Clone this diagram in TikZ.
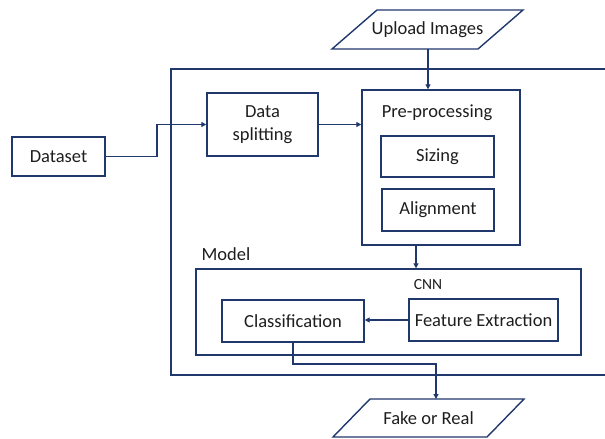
\documentclass[tikz,border=0pt]{standalone}
\usepackage{fontspec}
\setmainfont{Carlito}
\usetikzlibrary{arrows.meta}
\definecolor{navy}{RGB}{32,56,108}
\definecolor{txt}{RGB}{30,30,30}
\tikzset{
  box/.style={draw=navy, line width=1.4pt, text=txt, inner sep=0pt, align=center},
  paraline/.style={draw=navy, line width=1.4pt, line join=miter},
  conn/.style={draw=navy, line width=1.4pt},
  arr/.style={conn, -{Triangle[length=5pt,width=5pt]}},
  lbl/.style={text=txt, inner sep=0pt}
}
\begin{document}
\begin{tikzpicture}[x=1pt,y=-1pt,font=\fontsize{18.5}{23}\selectfont]
\useasboundingbox (0,0) rectangle (605,439);
% outer box (open on the right)
\draw[conn] (605,69) -- (171,69) -- (171,375) -- (605,375);
% parallelograms
\draw[paraline] (332,49) -- (377,10) -- (523,10) -- (478,49) -- cycle;
\node[lbl] (up) at (427.5,30) {Upload Images};
\coordinate (upb) at (428,49);
\draw[paraline] (333,437) -- (370,399) -- (524,399) -- (487,437) -- cycle;
\node[lbl] (out) at (428.5,418) {Fake or Real};
\coordinate (outt) at (436,399);
% nodes
\node[box, minimum width=93, minimum height=39] (ds) at (58.5,156.5) {Dataset};
\node[box, minimum width=111, minimum height=63] (split) at (262.5,124.5) {Data\\splitting};
\node[box, minimum width=158, minimum height=155] (pre) at (441,167.5) {};
\node[lbl] (prelbl) at (437,113) {Pre-processing};
\node[box, minimum width=113, minimum height=41] (siz) at (437.5,156.5) {Sizing};
\node[box, minimum width=112, minimum height=42] (ali) at (438,210) {Alignment};
\node[lbl] (modlbl) at (226,254) {Model};
\node[box, minimum width=385, minimum height=86] (cnn) at (388.5,312) {};
\node[lbl, font=\fontsize{15.5}{18}\selectfont] (cnnlbl) at (428,285) {CNN};
\node[box, minimum width=142, minimum height=42] (cls) at (293,321) {Classification};
\node[box, minimum width=149, minimum height=42] (fe) at (483.5,320) {Feature Extraction};
% connectors
\coordinate (e1) at (157,156.5);
\draw[arr] (ds.east) -- (e1) |- (split.west);
\draw[arr] (split.east) -- (pre.west |- split.east);
\draw[arr] (upb) -- (pre.north -| upb);
\draw[arr] (pre.south -| 416,0) -- (cnn.north -| 416,0);
\draw[arr] (fe.west) -- (cls.east |- fe.west);
\coordinate (e2) at (293,364);
\coordinate (e3) at (436,364);
\draw[arr] (cls.south) -- (e2) -- (e3) -- (outt);
\end{tikzpicture}
\end{document}
